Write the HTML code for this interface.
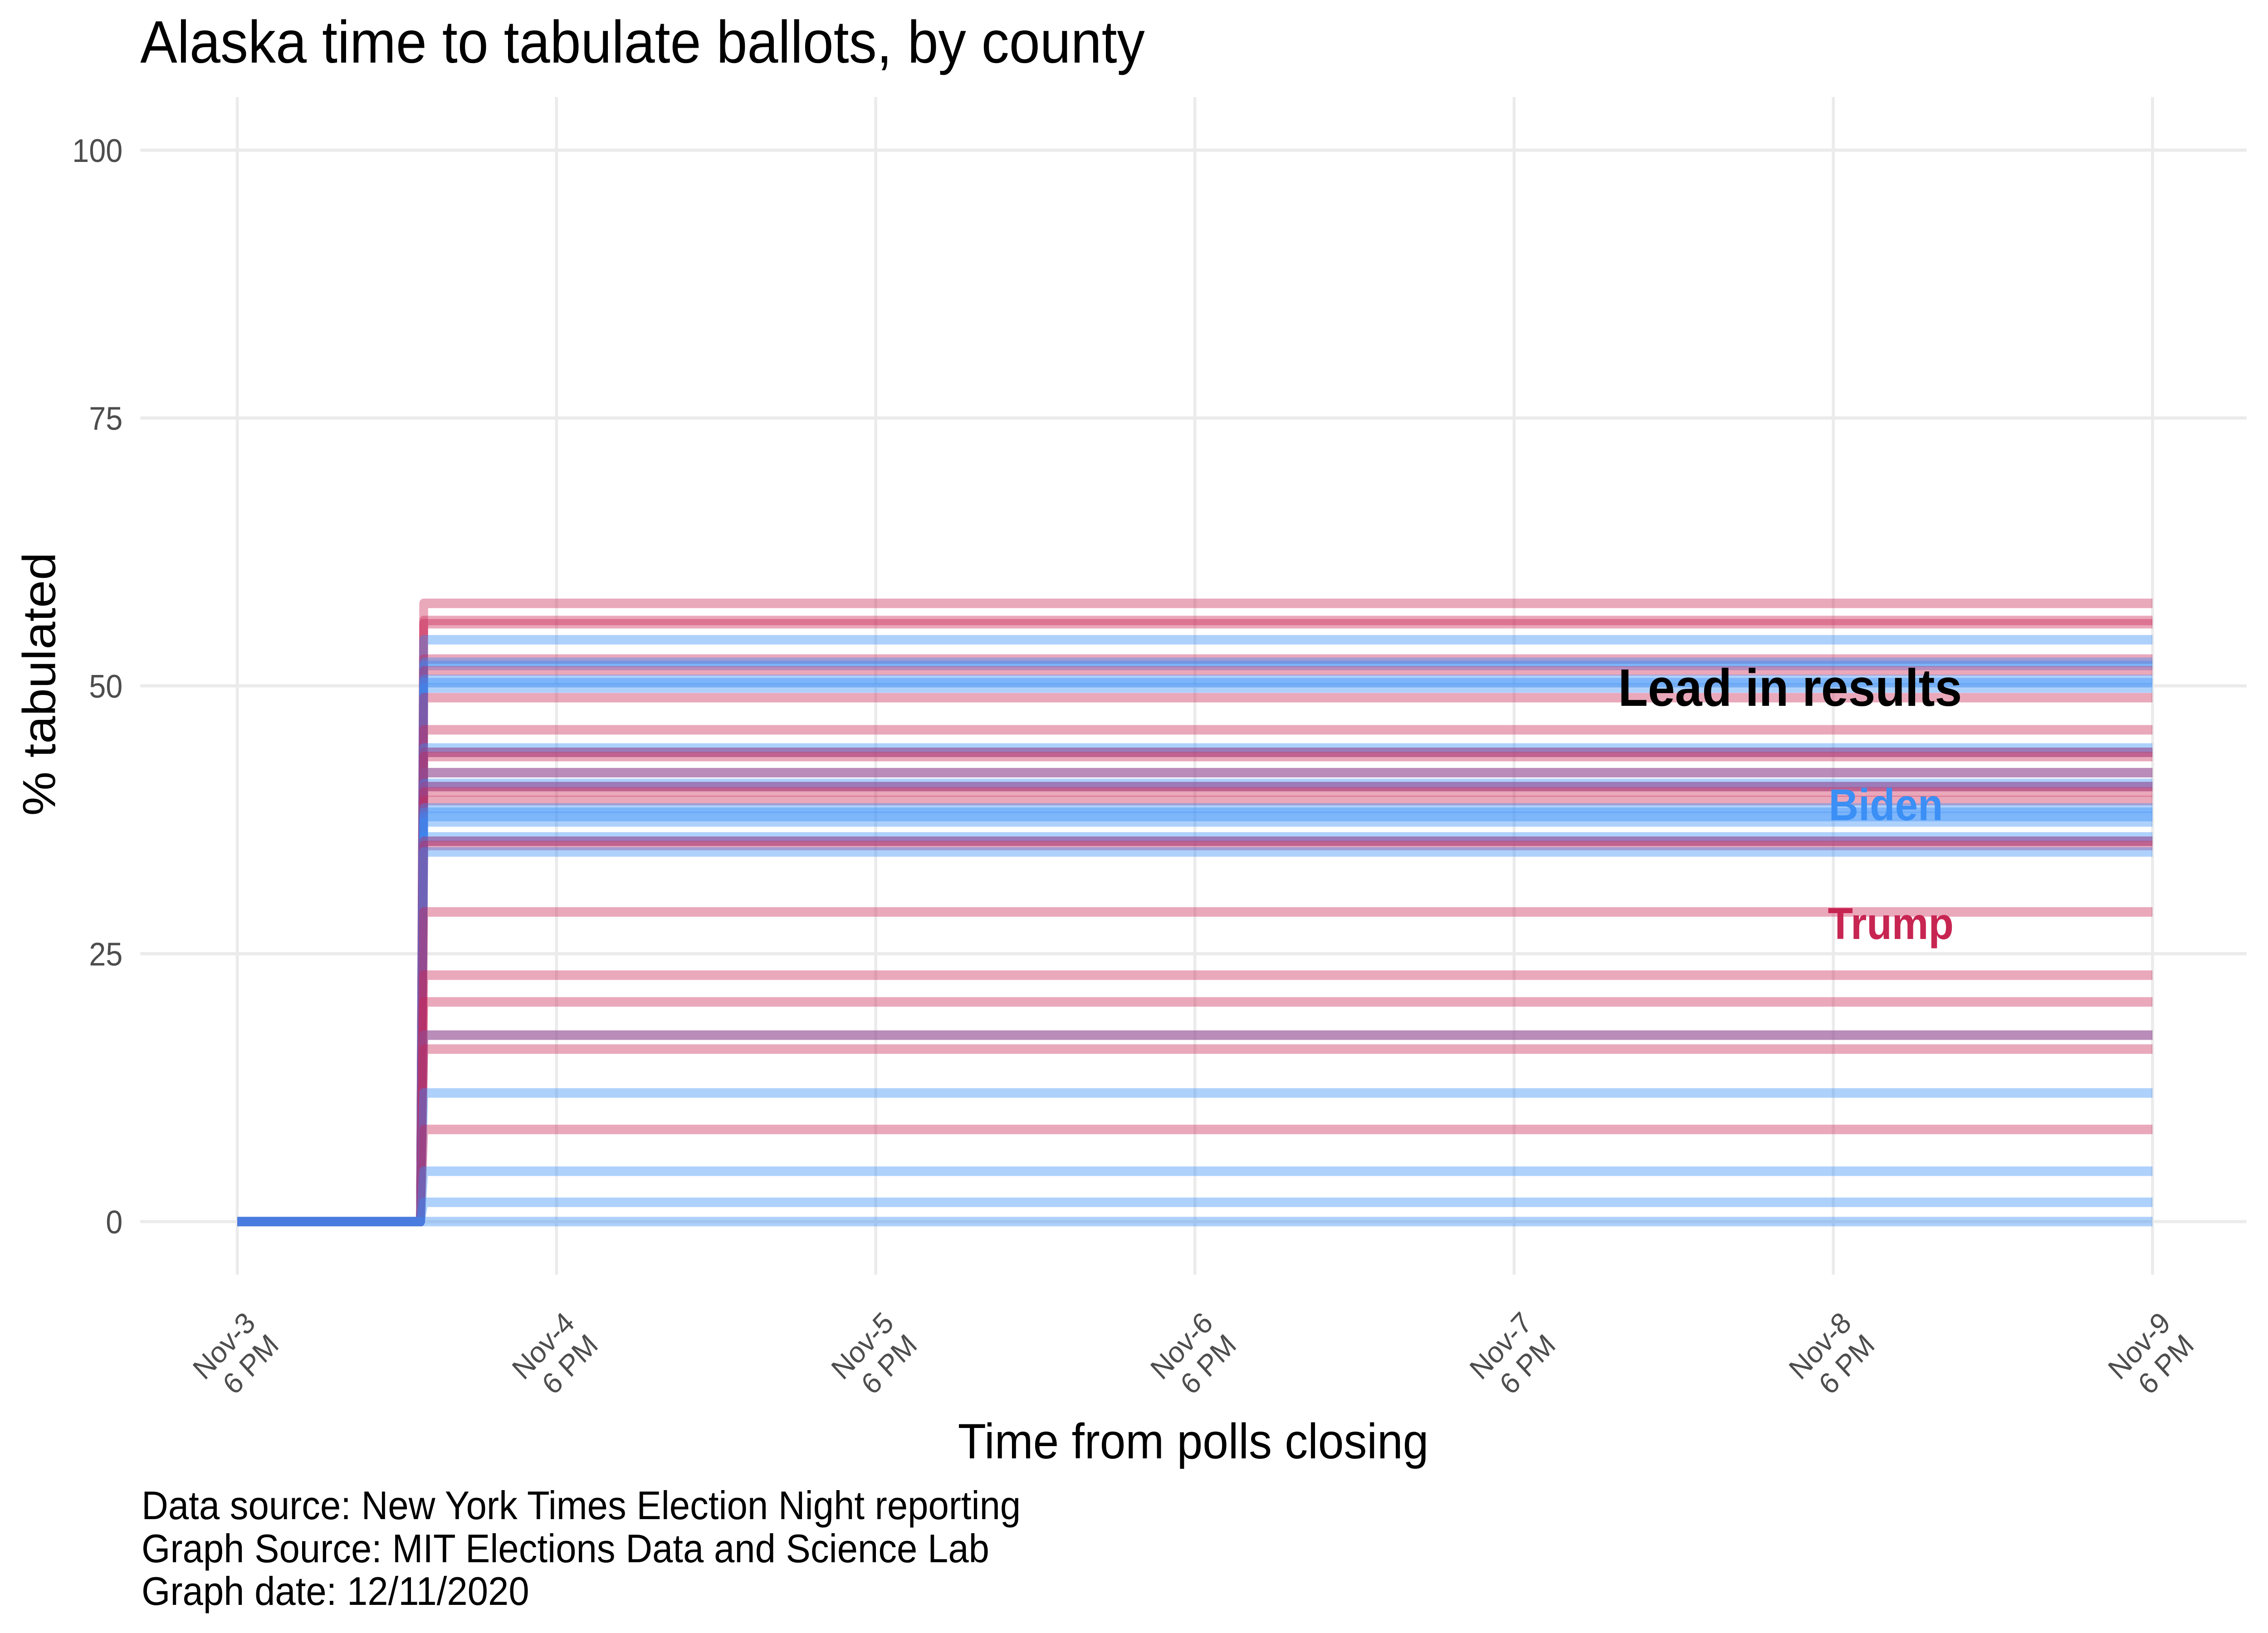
<!DOCTYPE html>
<html><head><meta charset="utf-8">
<style>
html,body{margin:0;padding:0;background:#fff;width:100%;height:100%;overflow:hidden;}
svg{display:block;position:absolute;left:0;top:0;width:100vw;height:100vh;font-family:"Liberation Sans",Arial,sans-serif;}
</style></head>
<body>
<svg id="chart" viewBox="0 0 5400 3600" preserveAspectRatio="none" xmlns="http://www.w3.org/2000/svg">
<rect width="5400" height="3600" fill="#fff"/>
<g id="grid"></g>
<g id="series"></g>
<g id="yticks"></g>
<g id="xticks"></g>
<text x="334" y="138" font-size="132" fill="#000">Alaska time to tabulate ballots, by county</text>
<text x="2841" y="3215" font-size="110" fill="#000" text-anchor="middle">Time from polls closing</text>
<text transform="translate(131,1508) rotate(-90)" font-size="110" fill="#000" text-anchor="middle">% tabulated</text>
<text x="4262" y="1556" font-size="116" font-weight="bold" fill="#000" text-anchor="middle">Lead in results</text>
<text x="4354" y="1808" font-size="98" font-weight="bold" fill="#3b8ff5">Biden</text>
<text x="4352" y="2070" font-size="98" font-weight="bold" fill="#c72552">Trump</text>
<g font-size="88" fill="#000">
<text x="337" y="3349">Data source: New York Times Election Night reporting</text>
<text x="337" y="3444">Graph Source: MIT Elections Data and Science Lab</text>
<text x="337" y="3538">Graph date: 12/11/2020</text>
</g>
</svg>
<script>
const yTicks = [0, 25, 50, 75, 100];
const xTickLine1 = ["Nov-3", "Nov-4", "Nov-5", "Nov-6", "Nov-7", "Nov-8", "Nov-9"];
const xTickLine2 = ["6 PM", "6 PM", "6 PM", "6 PM", "6 PM", "6 PM", "6 PM"];
const jumpDay = 0.584;
const endDay = 6;
const countyValues = [57.7, 55.8, 56.1, 54.3, 52.5, 52.2, 51.9, 51.4, 50.6, 50.3, 49.8, 48.9, 45.9, 44.2, 43.8, 43.8, 43.4, 41.9, 41.9, 40.9, 40.6, 40.6, 40.1, 39.3, 38.6, 38.2, 37.8, 37.3, 35.9, 35.5, 35.5, 35.1, 34.5, 28.9, 23.0, 20.5, 17.4, 17.4, 16.1, 12.0, 8.6, 4.7, 1.8, 0];
const countyLeader = ["T","T","T","B","T","B","B","T","B","B","B","T","T","B","B","T","T","B","T","B","B","T","T","T","B","B","B","B","B","B","T","T","B","T","T","T","B","T","T","B","T","B","B","B"];

const X0 = 565, X6 = 5125, Y0 = 2693, Y100 = 331;
const xs = d => X0 + (X6 - X0) * d / 6;
const ys = v => Y0 - (Y0 - Y100) * v / 100;
const NS = "http://www.w3.org/2000/svg";
const mk = (tag, attrs, parent) => { const e = document.createElementNS(NS, tag); for (const k in attrs) e.setAttribute(k, attrs[k]); parent.appendChild(e); return e; };

const grid = document.getElementById("grid");
yTicks.forEach(v => {
  const l = mk("line", {x1: 334, x2: 5349, y1: ys(v), y2: ys(v), stroke: "#ebebeb", "stroke-width": 7}, grid);
  
  
});
xTickLine1.forEach((t, i) => {
  const l = mk("line", {x1: xs(i), x2: xs(i), y1: 214, y2: 2810, stroke: "#ebebeb", "stroke-width": 7}, grid);
  
  
});

const series = document.getElementById("series");
countyValues.forEach((v, i) => {
  const col = countyLeader[i] === "T" ? "#ca2555" : "#348cf7";
  const d = `M${xs(0)},${ys(0)} L${xs(jumpDay - 0.01)},${ys(0)} L${xs(jumpDay)},${ys(v)} L${xs(endDay)},${ys(v)}`;
  const p = mk("path", {d: d, fill: "none", stroke: col, "stroke-width": 21, "stroke-opacity": 0.4, "stroke-linejoin": "round"}, series);
  
  
});

const yt = document.getElementById("yticks");
yTicks.forEach(v => {
  const t = mk("text", {x: 292, y: ys(v) + 26, "font-size": 72, fill: "#4d4d4d", "text-anchor": "end"}, yt);
  t.textContent = v;
  
  
});

const xt = document.getElementById("xticks");
xTickLine1.forEach((s, i) => {
  const g = mk("g", {transform: `translate(${xs(i) - 78},3045) rotate(-45)`, "font-size": 66, fill: "#4d4d4d", "text-anchor": "start"}, xt);
  
  
  const a = mk("text", {x: 0, y: 0}, g);
  a.textContent = s;
  const b = mk("text", {x: 27, y: 74}, g);
  b.textContent = xTickLine2[i];
});
</script>
</body></html>
